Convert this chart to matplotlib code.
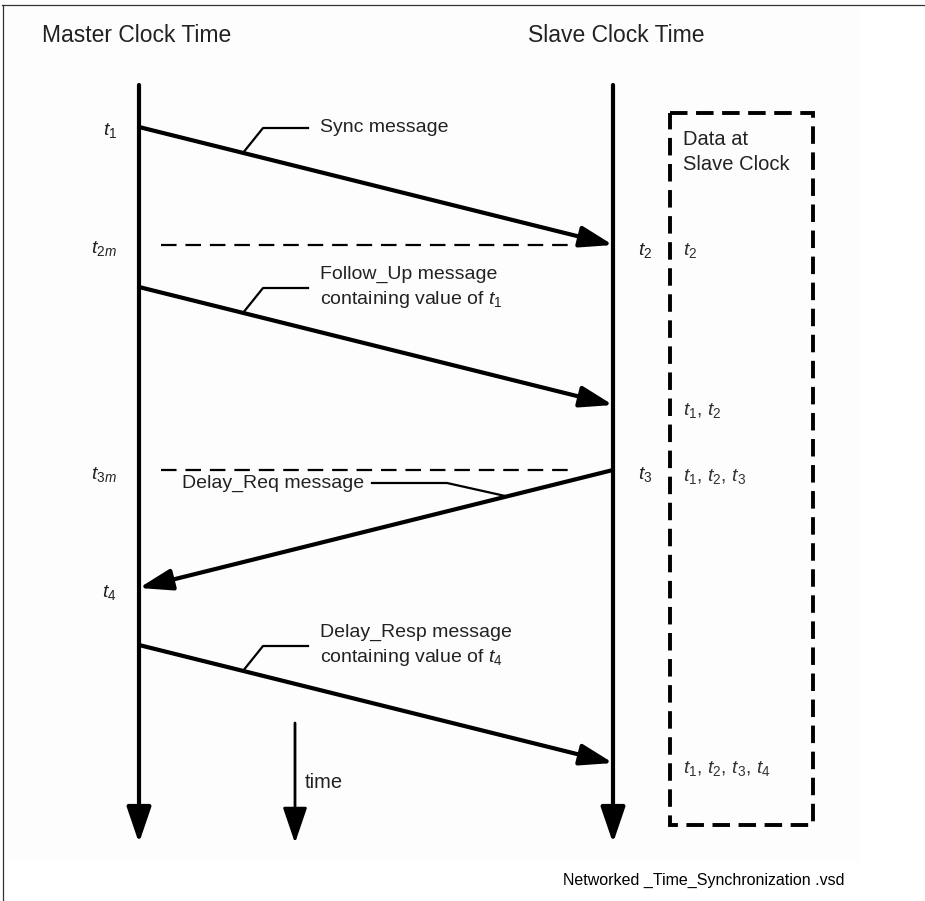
import matplotlib
matplotlib.use("Agg")
import matplotlib.pyplot as plt
from matplotlib.patches import FancyArrowPatch, ArrowStyle, Rectangle

plt.rcParams['font.family'] = ['Liberation Sans', 'DejaVu Sans']
plt.rcParams['mathtext.fontset'] = 'custom'
plt.rcParams['mathtext.it'] = 'Liberation Sans:italic'
plt.rcParams['mathtext.rm'] = 'Liberation Sans'
plt.rcParams['mathtext.bf'] = 'Liberation Sans:bold'

# ---- data: message exchange (time positions along the clock axes) ----
messages = ["Sync message", "Follow_Up message\ncontaining value of $t_1$",
            "Delay_Req message", "Delay_Resp message\ncontaining value of $t_4$"]
send_time = [127, 287, 470, 645]
recv_time = [245, 405, 588, 763]
direction = ["m2s", "m2s", "s2m", "m2s"]

master_labels = ["$t_1$", "$t_{2m}$", "$t_{3m}$", "$t_4$"]
master_label_time = [127, 245, 470, 588]
slave_labels = ["$t_2$", "$t_3$"]
slave_label_time = [245, 470]
dashed_ref_time = [245, 470]

slave_data = ["$t_2$", "$t_1$, $t_2$", "$t_1$, $t_2$, $t_3$", "$t_1$, $t_2$, $t_3$, $t_4$"]
slave_data_time = [245, 405, 470, 763]

W, H = 925, 901
fig = plt.figure(figsize=(W / 100, H / 100), dpi=100)
fig.patch.set_facecolor('white')
ax = fig.add_axes([0, 0, 1, 1])
ax.set_xlim(0, W)
ax.set_ylim(H, 0)
ax.axis('off')

TXT = '#222222'
XM, XS, XT = 139, 613, 295
TOP, TIP = 85, 843

# faint background + border
ax.add_patch(Rectangle((8, 8), 852, 854, facecolor='#fdfdfd', edgecolor='none', zorder=0))
ax.plot([2, W], [5, 5], color='#333333', lw=0.9, zorder=1)
ax.plot([3, 3], [5, H], color='#333333', lw=0.9, zorder=1)

# headings
ax.text(42, 36, "Master Clock Time", fontsize=16.5, color=TXT, va='center', ha='left')
ax.text(528, 36, "Slave Clock Time", fontsize=16.5, color=TXT, va='center', ha='left')

# vertical time axes
vstyle = ArrowStyle('-|>', head_length=22, head_width=7.5)
for x, y0 in [(XM, TOP), (XS, TOP), (XT, 723)]:
    lw = 3.0 if x != XT else 2.0
    ax.add_patch(FancyArrowPatch((x, y0), (x, TIP), arrowstyle=vstyle, mutation_scale=1,
                                 lw=lw, color='black', shrinkA=0, shrinkB=0, zorder=3))
ax.text(305, 783, "time", fontsize=14.5, color=TXT, va='center', ha='left')

# messages
mstyle = ArrowStyle('-|>', head_length=20, head_width=6.5)
for msg, ts, tr, d in zip(messages, send_time, recv_time, direction):
    if d == "m2s":
        p0, p1 = (XM, ts), (XS, tr)
    else:
        p0, p1 = (XS, ts), (XM, tr)
    ax.add_patch(FancyArrowPatch(p0, p1, arrowstyle=mstyle, mutation_scale=1, lw=3.0,
                                 color='black', shrinkA=0, shrinkB=0, zorder=3))
    slope = (p1[1] - p0[1]) / (p1[0] - p0[0])
    if d == "m2s":
        xa = 243
        ya = p0[1] + (xa - p0[0]) * slope
        yl = ts + 1
        ax.plot([xa, 263, 308], [ya, yl, yl], color='black', lw=1.6, zorder=3)
        ax.text(320, yl, msg, fontsize=14, color=TXT, va='center', ha='left',
                linespacing=1.4)
    else:
        xa = 507
        ya = p0[1] + (xa - p0[0]) * slope
        yl = ts + 13
        ax.plot([xa, 447, 372], [ya, yl, yl], color='black', lw=1.6, zorder=3)
        ax.text(182, yl, msg, fontsize=14, color=TXT, va='center', ha='left')

# dashed reference lines
for t in dashed_ref_time:
    ax.plot([161, 574], [t, t], color='black', lw=1.6, dashes=(7, 4), zorder=2)

# labels next to master axis
for lab, t in zip(master_labels, master_label_time):
    ax.text(117, t + 4, lab, fontsize=14, color=TXT, va='center', ha='right')
# labels next to slave axis
for lab, t in zip(slave_labels, slave_label_time):
    ax.text(638, t + 5, lab, fontsize=14, color=TXT, va='center', ha='left')

# data at slave clock box
ax.add_patch(Rectangle((670, 113), 143, 712, facecolor='none', edgecolor='black',
                       lw=2.8, linestyle=(0, (4.5, 2.2)), zorder=2))
ax.text(683, 152, "Data at\nSlave Clock", fontsize=14.5, color=TXT, va='center', ha='left',
        linespacing=1.4)
for lab, t in zip(slave_data, slave_data_time):
    ax.text(683, t + 6, lab, fontsize=14, color='#333333', va='center', ha='left')

ax.text(563, 880, "Networked _Time_Synchronization .vsd", fontsize=11.5, color='black',
        va='center', ha='left')

fig.savefig("out.png", dpi=100, facecolor='white')
